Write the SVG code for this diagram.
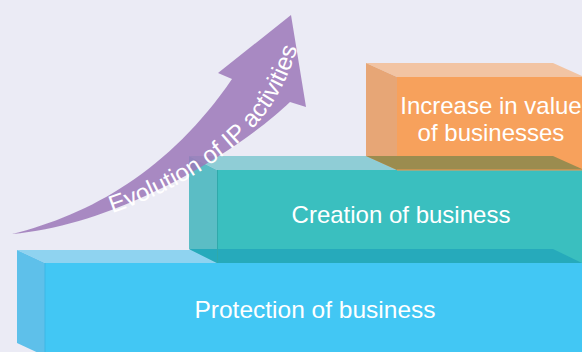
<svg xmlns="http://www.w3.org/2000/svg" width="582" height="352" viewBox="0 0 582 352">
  <style>
    .lbl { font-family: "Liberation Sans", Arial, Helvetica, sans-serif; font-size: 24px; fill: #ffffff; text-anchor: middle; }
    .arrowtxt { font-family: "Liberation Sans", Arial, Helvetica, sans-serif; font-size: 24.5px; fill: #ffffff; }
  </style>
  <defs>
    <path id="arrowBase" d="M100,217 C160,199 229,162 265,114 C283,90 295,62 303,26" fill="none"/>
  </defs>
  <rect x="0" y="0" width="582" height="352" fill="#ebebf5"/>

  <g id="node-protection">
    <polygon points="17,250 554,250 582,263 45,263" fill="#8fd3f0"/>
    <polygon points="17,250 45,263 45,356 17,343" fill="#5ec0ea"/>
    <rect x="45" y="263" width="537" height="89" fill="#42c7f4"/>
    <line x1="45" y1="263" x2="45" y2="352" stroke="#3db8e6" stroke-width="1"/>
    <text class="lbl" x="315" y="318" textLength="241" lengthAdjust="spacingAndGlyphs">Protection of business</text>
  </g>

  <g id="node-creation">
    <polygon points="189,156 553,156 582,170 217,170" fill="#8fcdd6"/>
    <polygon points="189,156 217,170 217,263 189,249" fill="#5bbdc5"/>
    <rect x="217" y="170" width="365" height="93" fill="#3abfbf"/>
    <polygon points="189,249 553,249 582,263 217,263" fill="#26aabb"/>
    <line x1="217.5" y1="170" x2="217.5" y2="263" stroke="#2fa9ab" stroke-width="1"/>
    <text class="lbl" x="401" y="223">Creation of business</text>
  </g>

  <g id="node-increase">
    <polygon points="366,63 553,63 584,77 397,77" fill="#f2c4a3"/>
    <polygon points="366,63 397,77 397,170 366,156" fill="#e7a676"/>
    <rect x="397" y="77" width="187" height="93" fill="#f7a15c"/>
    <polygon points="366,156 553,156 584,170 397,170" fill="#9b8c4f"/>
    <line x1="397" y1="170" x2="582" y2="170" stroke="#f39a52" stroke-width="1.2"/>
    <text class="lbl" x="491" y="114">Increase in value</text>
    <text class="lbl" x="491" y="141">of businesses</text>
  </g>

  <g id="evolution">
    <path d="M12,234 C90,215 170,170 232,79 L218,73 L291,15 L306,107 L290,102 C240,150 120,225 12,234 Z" fill="#9c78b8" opacity="0.85"/>
    <text class="arrowtxt"><textPath href="#arrowBase" startOffset="13">Evolution of IP activities</textPath></text>
  </g>
</svg>
